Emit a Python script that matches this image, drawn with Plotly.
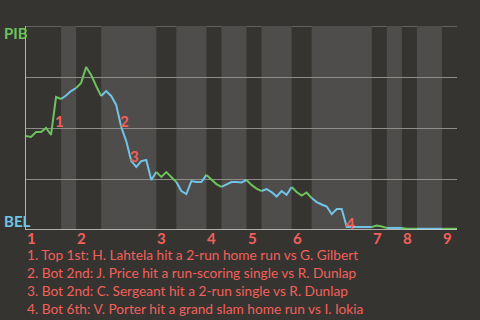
import plotly.graph_objects as go

# Plate appearances per half inning (T1, B1, T2, B2, ... T9)
half_inning_pa = [7, 3, 5, 11, 4, 6, 3, 5, 3, 6, 4, 12, 3, 3, 3, 5, 3]
inning_labels = ["1", "2", "3", "4", "5", "6", "7", "8", "9"]

# PIB win probability after each plate appearance (index 0 = game start)
win_prob = [
    0.461, 0.456, 0.480, 0.480, 0.500, 0.466, 0.652, 0.642,           # T1
    0.659, 0.681, 0.696,                                              # B1
    0.721, 0.799, 0.760, 0.706, 0.657,                                # T2
    0.681, 0.657, 0.613, 0.505, 0.436, 0.338, 0.309, 0.338, 0.343,
    0.245, 0.284,                                                     # B2
    0.260, 0.284, 0.260, 0.235,                                       # T3
    0.191, 0.176, 0.240, 0.235, 0.235, 0.270,                         # B3
    0.245, 0.225, 0.211,                                              # T4
    0.223, 0.235, 0.235, 0.233, 0.245,                                # B4
    0.221, 0.203, 0.191,                                              # T5
    0.201, 0.186, 0.164, 0.191, 0.172, 0.211,                         # B5
    0.186, 0.169, 0.184, 0.157,                                       # T6
    0.137, 0.125, 0.115, 0.078, 0.103, 0.103, 0.015, 0.015, 0.015,
    0.015, 0.015, 0.015,                                              # B6
    0.022, 0.017, 0.010,                                              # T7
    0.010, 0.010, 0.010,                                              # B7
    0.006, 0.006, 0.006,                                              # T8
    0.006, 0.006, 0.006, 0.006, 0.006,                                # B8
    0.006, 0.006, 0.006,                                              # T9
]

event_index = [6, 19, 21, 64]
event_text = [
    "1. Top 1st: H. Lahtela hit a 2-run home run vs G. Gilbert",
    "2. Bot 2nd: J. Price hit a run-scoring single vs R. Dunlap",
    "3. Bot 2nd: C. Sergeant hit a 2-run single vs R. Dunlap",
    "4. Bot 6th: V. Porter hit a grand slam home run vs I. Iokia",
]

BG = "#363430"
BAND = "#4e4d4b"
GRID = "#8e8d8a"
GREEN = "#6cc35e"
BLUE = "#72c4e6"
RED = "#f2605c"
FONT = "Lato"

bounds = [0]
for n in half_inning_pa:
    bounds.append(bounds[-1] + n)

fig = go.Figure()
for i in range(len(half_inning_pa)):
    s, e = bounds[i], bounds[i + 1]
    fig.add_trace(go.Scatter(
        x=list(range(s, e + 1)), y=win_prob[s:e + 1], mode="lines",
        line=dict(color=GREEN if i % 2 == 0 else BLUE, width=2),
        hoverinfo="skip", showlegend=False))

shapes = []
for i in range(1, len(half_inning_pa), 2):
    shapes.append(dict(type="rect", xref="x", yref="y", x0=bounds[i], x1=bounds[i + 1],
                       y0=0, y1=1, fillcolor=BAND, line=dict(width=0), layer="below"))
shapes.append(dict(type="line", xref="paper", yref="y", x0=0, x1=1, y0=1, y1=1,
                   line=dict(color=GRID, width=1), layer="below"))
shapes.append(dict(type="line", xref="paper", yref="y", x0=0, x1=1, y0=0, y1=0,
                   line=dict(color="#d4d4d2", width=1.5), layer="above"))

annotations = []
for j, lab in enumerate(inning_labels):
    annotations.append(dict(x=bounds[2 * j], y=0, xref="x", yref="y", text=lab,
                            showarrow=False, xanchor="left", yanchor="middle", xshift=-1, yshift=-8,
                            font=dict(family=FONT, size=15, color=RED, weight="bold")))
for j, k in enumerate(event_index):
    annotations.append(dict(x=k, y=(win_prob[k - 1] + win_prob[k]) / 2, xref="x", yref="y",
                            text=str(j + 1), showarrow=False, xanchor="left", yanchor="middle",
                            xshift=-3, yshift=-5,
                            font=dict(family=FONT, size=15, color=RED, weight="bold")))
for j, t in enumerate(event_text):
    annotations.append(dict(x=0, y=0, xref="x", yref="y", text=t, showarrow=False,
                            xanchor="left", yanchor="middle", xshift=-1, yshift=-24 - 18 * j,
                            font=dict(family=FONT, size=13.7, color=RED)))
annotations.append(dict(x=0, y=1, xref="paper", yref="y", text="PIB", showarrow=False,
                        xanchor="left", yanchor="middle", xshift=-24, yshift=-7,
                        font=dict(family=FONT, size=15, color=GREEN, weight="bold")))
annotations.append(dict(x=0, y=0, xref="paper", yref="y", text="BEL", showarrow=False,
                        xanchor="left", yanchor="middle", xshift=-24, yshift=9,
                        font=dict(family=FONT, size=15, color=BLUE, weight="bold")))

fig.update_layout(
    width=480, height=320, margin=dict(l=26, r=23, t=26, b=90),
    paper_bgcolor=BG, plot_bgcolor=BG,
    xaxis=dict(range=[0, bounds[-1]], showgrid=False, zeroline=False, showticklabels=False,
               ticks="", showline=False),
    yaxis=dict(range=[0, 1], tickvals=[0.25, 0.5, 0.75], showgrid=True,
               gridcolor=GRID, gridwidth=1, zeroline=False, showticklabels=False,
               ticks="", showline=True, linecolor="#b5b4b2", linewidth=1),
    shapes=shapes, annotations=annotations,
)
fig.write_html("out.html")
